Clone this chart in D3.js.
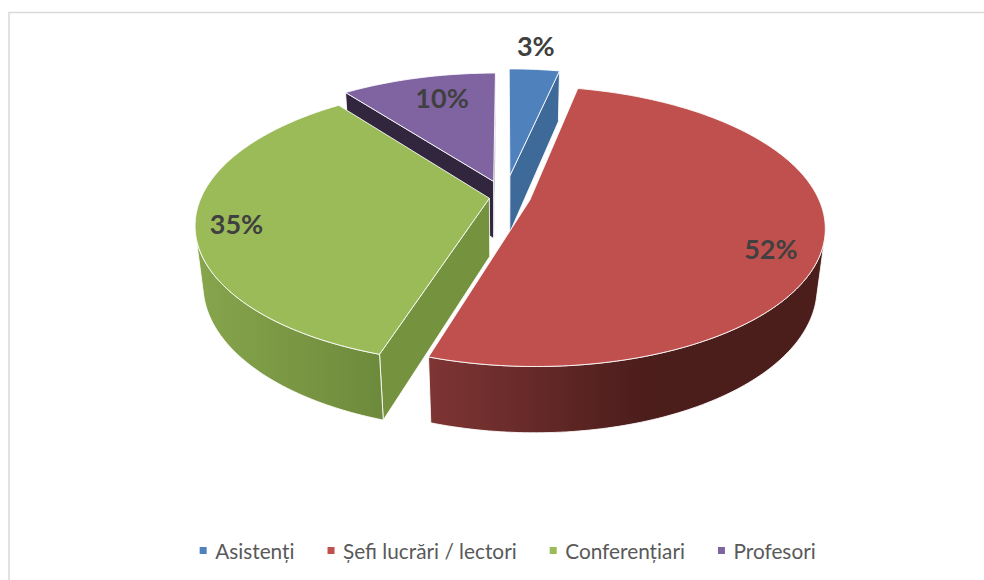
<!DOCTYPE html>
<html>
<head>
<meta charset="utf-8">
<script src="https://cdn.jsdelivr.net/npm/d3@7"></script>
<style>
    html, body { margin: 0; padding: 0; background: #fff; }
    svg { display: block; }
</style>
</head>
<body>
<div id="main"></div>
<script>
var ctx = { w: 984, h: 580 };

// data
var categories = ["Asistenți", "Șefi lucrări / lectori", "Conferențiari", "Profesori"];
var shares = [3.4, 51.5, 34.7, 10.4];

// look
var topColors = ["#4f81bd", "#c0504d", "#9bbb59", "#8064a2"];
var wallColors = ["#3d6a99", "#4b1d1b", "#75923e", "#32263f"];
var rimStops = [
    [[0, "#3d6a99"], [1, "#3d6a99"]],
    [[0, "#7e3534"], [0.55, "#4b1d1b"], [1, "#4b1d1b"]],
    [[0, "#87a54c"], [1, "#6d8a3c"]],
    [[0, "#32263f"], [1, "#32263f"]],
];
var explode = [0.165, 0.089, 0.055, 0.125];
var labelRadius = [1.22, 0.88, 0.9, 0.72];
var labelNudge = [[-3, -4.5], [-17, 16.5], [11, 3.5], [5, -6]];
var drawOrder = [3, 0, 2, 1];

// camera: homography from the pie plane to the screen
var cam = { cx: 505, cy: 197, bx: 288, ay: 134, k: 0.187, m: 0.025, drop: 59.5 };

var project = function (u, v, z) {
    var w = 1 + cam.k * v + cam.m * z;
    return [cam.cx + (cam.bx * u) / w, cam.cy + (cam.drop * z - cam.ay * v) / w];
};

var area = function (p) {
    var s = 0;
    p.forEach(function (a, i) {
        var b = p[(i + 1) % p.length];
        s += a[0] * b[1] - b[0] * a[1];
    });
    return s / 2;
};

var polyPath = function (pts) {
    return d3.line()(pts) + "Z";
};

var createPie = function (svg) {
    var slices = d3.pie().sort(null).value((d) => d)(shares);
    var defs = svg.append("defs");

    rimStops.forEach(function (stops, i) {
        var g = defs.append("linearGradient").attr("id", "rim-" + i);
        stops.forEach(function (s) {
            g.append("stop").attr("offset", s[0]).attr("stop-color", s[1]);
        });
    });

    var pieGroup = svg.append("g");

    drawOrder.forEach(function (i) {
        var d = slices[i];
        var mid = (d.startAngle + d.endAngle) / 2;
        var ou = explode[i] * Math.sin(mid);
        var ov = explode[i] * Math.cos(mid);

        var n = Math.ceil(((d.endAngle - d.startAngle) * 180) / Math.PI);
        var rim = d3.range(n + 1).map(function (j) {
            var a = d.startAngle + ((d.endAngle - d.startAngle) * j) / n;
            return [ou + Math.sin(a), ov + Math.cos(a)];
        });
        var apex = [ou, ov];
        var top = (p) => project(p[0], p[1], 0);
        var bot = (p) => project(p[0], p[1], 1);
        var g = pieGroup.append("g").attr("class", "slice");

        var quad = (p, q) => [top(p), top(q), bot(q), bot(p)];
        var visible = (p, q) => area(quad(p, q)) < 0;

        var drawWall = function (p, q) {
            if (!visible(p, q)) return;
            g.append("path")
                .attr("d", polyPath(quad(p, q)))
                .attr("fill", wallColors[i])
                .attr("stroke", "#fff")
                .attr("stroke-opacity", 0.85)
                .attr("stroke-width", 1);
        };

        drawWall(apex, rim[0]);
        drawWall(rim[n], apex);

        // runs of rim segments that face the camera
        var run = [];
        var flush = function () {
            if (run.length > 1) {
                var pts = run.map(top).concat(run.slice().reverse().map(bot));
                g.append("path")
                    .attr("d", polyPath(pts))
                    .attr("fill", "url(#rim-" + i + ")")
                    .attr("stroke", "#fff")
                    .attr("stroke-opacity", 0.85)
                    .attr("stroke-width", 1);
            }
            run = [];
        };
        for (var j = 0; j < n; j++) {
            if (visible(rim[j], rim[j + 1])) {
                if (!run.length) run.push(rim[j]);
                run.push(rim[j + 1]);
            } else {
                flush();
            }
        }
        flush();

        g.append("path")
            .attr("d", polyPath([top(apex)].concat(rim.map(top))))
            .attr("fill", topColors[i])
            .attr("stroke", "#fff")
            .attr("stroke-opacity", 0.85)
            .attr("stroke-width", 1);
    });

    // percent labels
    slices.forEach(function (d, i) {
        var mid = (d.startAngle + d.endAngle) / 2;
        var r = labelRadius[i] + explode[i];
        var p = project(r * Math.sin(mid), r * Math.cos(mid), 0);
        svg.append("text")
            .attr("x", p[0] + labelNudge[i][0])
            .attr("y", p[1] + labelNudge[i][1])
            .attr("text-anchor", "middle")
            .attr("dominant-baseline", "central")
            .attr("font-family", "Lato")
            .attr("font-weight", "bold")
            .attr("font-size", 27)
            .attr("fill", "#404040")
            .text(Math.round(d.value) + "%");
    });
};

var createLegend = function (svg) {
    var legend = svg.append("g");
    var x = 0;
    categories.forEach(function (c, i) {
        var g = legend.append("g").attr("transform", "translate(" + x + ",0)");
        g.append("rect")
            .attr("x", 0)
            .attr("y", -3.5)
            .attr("width", 7)
            .attr("height", 7)
            .attr("fill", topColors[i]);
        var t = g.append("text")
            .attr("x", 15.5)
            .attr("y", 0)
            .attr("dominant-baseline", "central")
            .attr("font-family", "Lato")
            .attr("font-size", 20.8)
            .attr("fill", "#595959")
            .text(c);
        x += 15.5 + t.node().getComputedTextLength() + 33;
    });
    legend.attr("transform", "translate(" + (507.7 - (x - 33) / 2) + ",550.5)");
};

var createViz = function () {
    var svg = d3.select("#main").append("svg")
        .attr("width", ctx.w)
        .attr("height", ctx.h);

    svg.append("path")
        .attr("d", d3.line()([[9, ctx.h], [9, 12.5], [ctx.w, 12.5]]))
        .attr("fill", "none")
        .attr("stroke", "#d9d9d9")
        .attr("stroke-width", 1.5);

    createPie(svg);
    createLegend(svg);
};

createViz();
</script>
</body>
</html>
